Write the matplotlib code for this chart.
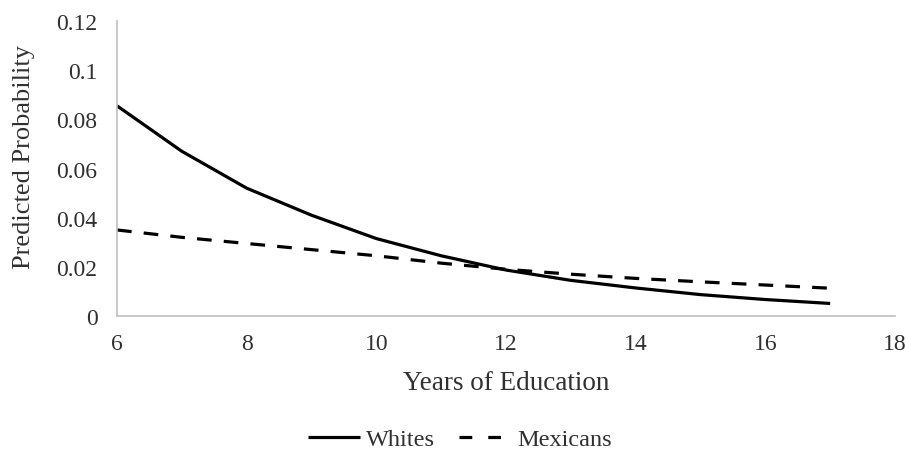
import matplotlib
matplotlib.use("Agg")
import matplotlib.pyplot as plt
from matplotlib.lines import Line2D

years = [6, 7, 8, 9, 10, 11, 12, 13, 14, 15, 16, 17]
whites = [0.0855, 0.067, 0.052, 0.041, 0.0315, 0.0245, 0.0187, 0.0145, 0.0114, 0.0087, 0.0067, 0.0051]
mexicans = [0.035, 0.032, 0.0295, 0.027, 0.0245, 0.0215, 0.019, 0.017, 0.0153, 0.0139, 0.0126, 0.0113]
xticks = [6, 8, 10, 12, 14, 16, 18]
yticks = [0, 0.02, 0.04, 0.06, 0.08, 0.1, 0.12]
ytick_labels = ["0", "0.02", "0.04", "0.06", "0.08", "0.1", "0.12"]

plt.rcParams['font.family'] = ['Liberation Serif', 'DejaVu Serif']
txt = '#303030'

fig = plt.figure(figsize=(9.09, 4.52), dpi=100)
ax = fig.add_axes([117/909, 1-317/452, (895-117)/909, (317-22)/452])

ax.plot(years, whites, color='black', lw=2.3, label='Whites', solid_capstyle='butt',
        solid_joinstyle='round')
ax.plot(years, mexicans, color='black', lw=2.3, dashes=(4.6, 3.8), label='Mexicans',
        dash_capstyle='butt')

ax.set_xlim(6, 18)
ax.set_ylim(0, 0.12)
ax.set_xticks(xticks)
ax.set_xticklabels([str(x) for x in xticks])
ax.set_yticks(yticks)
ax.set_yticklabels(ytick_labels)
ax.tick_params(axis='both', length=0, labelsize=17, labelcolor=txt)
ax.tick_params(axis='y', pad=14)
ax.tick_params(axis='x', pad=12)
for s in ['top', 'right']:
    ax.spines[s].set_visible(False)
for s in ['left', 'bottom']:
    ax.spines[s].set_color('#bfbfbf')
    ax.spines[s].set_linewidth(1.2)

ax.set_xlabel('Years of Education', fontsize=19.5, color=txt, labelpad=12)
fig.text(24/909, 1-157/452, 'Predicted Probability', rotation=90, ha='center', va='center',
         fontsize=19, color=txt)

h_w = Line2D([], [], color='black', lw=2.3, solid_capstyle='butt')
h_m = Line2D([], [], color='black', lw=2.3, dashes=(4, 5), dash_capstyle='butt')
fig.legend([h_w, h_m], ['Whites', 'Mexicans'], loc='center', bbox_to_anchor=(460/909, 1-440/452),
           ncol=2, frameon=False, fontsize=17.5, handlelength=2.14, columnspacing=1.0,
           handletextpad=0.25, labelcolor=txt)

fig.savefig('out.png', dpi=100)
